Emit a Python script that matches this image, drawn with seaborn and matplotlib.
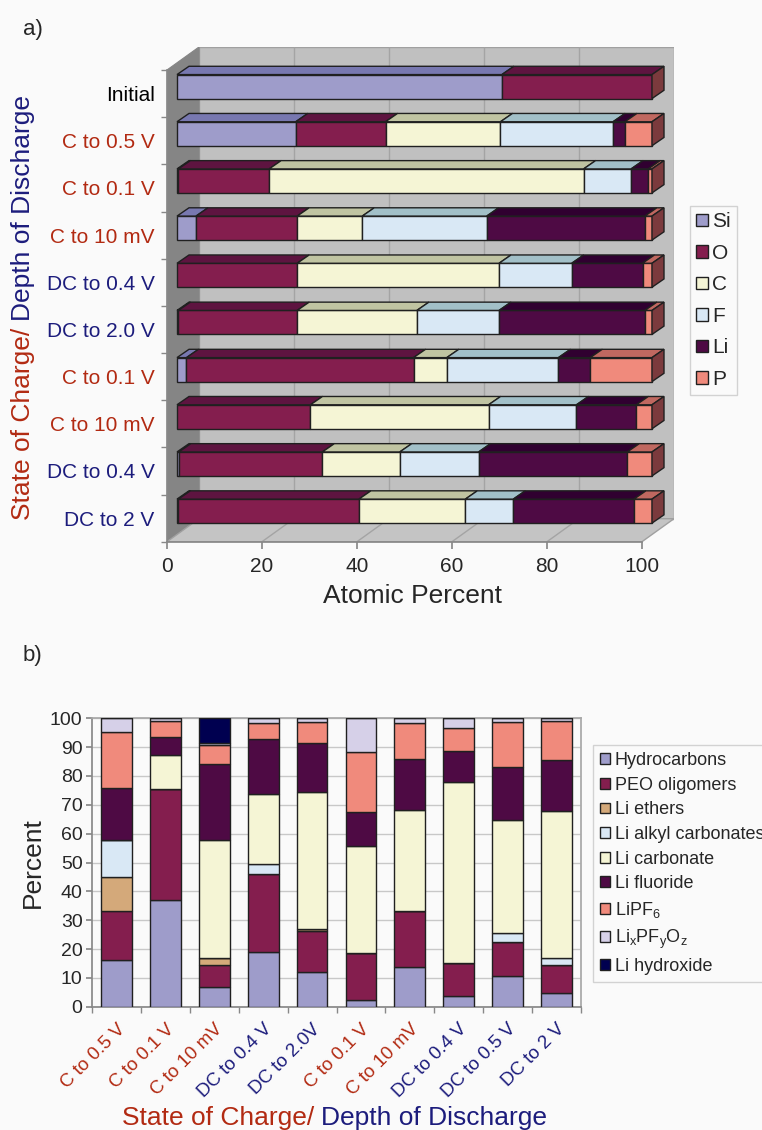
import matplotlib
matplotlib.use("Agg")
import matplotlib.pyplot as plt
import matplotlib.patches as mpatches
import numpy as np
import pandas as pd
import seaborn as sns

# ---------------- panel a: atomic percent per sample ----------------
rows_a = ["Initial", "C to 0.5 V", "C to 0.1 V", "C to 10 mV", "DC to 0.4 V",
          "DC to 2.0 V", "C to 0.1 V", "C to 10 mV", "DC to 0.4 V", "DC to 2 V"]
elements = ["Si", "O", "C", "F", "Li", "P"]
si = [68.4, 25.0, 0.3, 4.0, 0.0, 0.3, 2.0, 0.0, 0.4, 0.3]
o = [31.6, 18.9, 19.1, 21.3, 25.3, 25.0, 47.8, 28.1, 30.2, 38.0]
c = [0.0, 24.2, 66.2, 13.7, 42.5, 25.2, 7.0, 37.5, 16.3, 22.4]
f = [0.0, 23.7, 10.0, 26.2, 15.3, 17.3, 23.5, 18.5, 16.6, 10.1]
li = [0.0, 2.5, 3.6, 33.3, 14.9, 30.7, 6.7, 12.6, 31.3, 25.4]
p = [0.0, 5.7, 0.8, 1.5, 2.0, 1.5, 13.0, 3.3, 5.2, 3.8]

front_a = ["#9e9cca", "#841e4e", "#f5f5d5", "#d9e8f5", "#4e0a44", "#f08a7c"]
top_a = ["#7878b0", "#5e1440", "#c0c4a2", "#a2c0c8", "#300030", "#c06860"]
SIDE = "#7b3a3d"

# ---------------- panel b: species percent per sample ----------------
samples_b = ["C to 0.5 V", "C to 0.1 V", "C to 10 mV", "DC to 0.4 V", "DC to 2.0V",
             "C to 0.1 V", "C to 10 mV", "DC to 0.4 V", "DC to 0.5 V", "DC to 2 V"]
species = ["Hydrocarbons", "PEO oligomers", "Li ethers", "Li alkyl carbonates",
           "Li carbonate", "Li fluoride", "LiPF$_6$", "Li$_x$PF$_y$O$_z$", "Li hydroxide"]
hydrocarbons = [16.1, 37.0, 6.7, 18.9, 12.0, 2.3, 13.8, 3.7, 10.6, 4.8]
peo = [17.0, 38.5, 7.8, 27.1, 14.3, 16.2, 19.4, 11.6, 11.7, 9.7]
li_ethers = [11.8, 0, 2.3, 0, 0.5, 0, 0, 0, 0, 0]
li_alkyl = [12.9, 0, 0, 3.6, 0, 0, 0, 0, 3.3, 2.4]
li_carbonate = [0, 11.8, 40.9, 24.3, 47.8, 37.3, 35.1, 62.5, 39.3, 51.1]
li_fluoride = [18.1, 6.2, 26.4, 18.8, 16.9, 11.8, 17.5, 10.8, 18.2, 17.6]
lipf6 = [19.3, 5.6, 6.7, 5.6, 7.3, 20.6, 12.5, 8.2, 15.7, 13.6]
lixpfyoz = [4.8, 0.9, 0.7, 1.7, 1.2, 11.8, 1.7, 3.2, 1.2, 0.8]
li_hydroxide = [0, 0, 8.5, 0, 0, 0, 0, 0, 0, 0]

colors_b = ["#9e9cca", "#841e4e", "#d4a97a", "#d9e8f5", "#f5f5d5",
            "#4e0a44", "#f08a7c", "#d6d0e8", "#000050"]

RED = "#b22a12"
NAVY = "#1c1c7c"
BG = "#fafafa"
W, H = 762, 1130


def label_color(s):
    if s == "Initial":
        return "black"
    return NAVY if s.startswith("DC") else RED


def fig_box(left, top, right, bottom):
    return [left / W, 1 - bottom / H, (right - left) / W, (bottom - top) / H]


def px_to_data(ax, dx, dy):
    # pixel offset (right, up) -> data offset
    x0, y0 = ax.transData.transform((0, 0))
    x1, y1 = ax.transData.inverted().transform((x0 + dx, y0 + dy))
    return x1, y1


sns.set_theme(style="white")
plt.rcParams["font.family"] = ["Liberation Sans", "DejaVu Sans"]
plt.rcParams["mathtext.fontset"] = "custom"
plt.rcParams["mathtext.rm"] = "Liberation Sans"
plt.rcParams["mathtext.it"] = "Liberation Sans:italic"
plt.rcParams["mathtext.default"] = "regular"

fig = plt.figure(figsize=(W / 100, H / 100), dpi=100, facecolor=BG)

# ======================= panel a (pseudo 3D) =======================
ax_a = fig.add_axes(fig_box(167, 47, 674, 541.7))
ax_a.set_facecolor("none")

df_a = pd.DataFrame({"row": range(len(rows_a)), "Si": si, "O": o, "C": c,
                     "F": f, "Li": li, "P": p})
left = np.zeros(len(df_a))
seg_patches = []
for el, col in zip(elements, front_a):
    n0 = len(ax_a.patches)
    sns.barplot(x=df_a[el], y=df_a["row"], orient="h", left=left.copy(), color=col,
                saturation=1, width=24 / 47.2, edgecolor="#202020", linewidth=1,
                ax=ax_a, zorder=3)
    seg_patches.append(list(ax_a.patches[n0:]))
    left += df_a[el].values

ax_a.set_xlim(0, 100 * 507 / 475)
ax_a.set_ylim(9.5, -0.5 - 23 / 47.2)

# box walls
wx, wy = px_to_data(ax_a, 32, 23)
ax_a.add_patch(mpatches.Rectangle((wx, -0.5 + wy), 100, 10, facecolor="#c0c0c0",
                                  edgecolor="#a0a0a0", lw=1, zorder=0))
ax_a.add_patch(mpatches.Polygon([(0, -0.5), (wx, -0.5 + wy), (wx, 9.5 + wy), (0, 9.5)],
                                facecolor="#858585", edgecolor="#858585", lw=0.8, zorder=0))
ax_a.add_patch(mpatches.Polygon([(0, 9.5), (100, 9.5), (100 + wx, 9.5 + wy), (wx, 9.5 + wy)],
                                facecolor="#c4c4c4", edgecolor="#a0a0a0", lw=1, zorder=0.5))
for t in [20, 40, 60, 80]:
    ax_a.plot([t + wx, t + wx], [-0.5 + wy, 9.5 + wy], color="#a4a4a4", lw=1, zorder=0.2)
    ax_a.plot([t, t + wx], [9.5, 9.5 + wy], color="#a4a4a4", lw=1, zorder=0.6)

# shift bars into the middle of the box and add top / side faces
fx, fy = px_to_data(ax_a, 10, 7)
dx, dy = px_to_data(ax_a, 12, 8.3)
row_end = {}
for ei, plist in enumerate(seg_patches):
    for bar in plist:
        bar.set_x(bar.get_x() + fx)
        bar.set_y(bar.get_y() + fy)
        x0, y0, w, h = bar.get_x(), bar.get_y(), bar.get_width(), bar.get_height()
        if w < 0.05:
            bar.set_visible(False)
            continue
        ax_a.add_patch(mpatches.Polygon(
            [(x0, y0), (x0 + w, y0), (x0 + w + dx, y0 + dy), (x0 + dx, y0 + dy)],
            facecolor=top_a[ei], edgecolor="#202020", lw=1, zorder=3))
        key = round(y0, 3)
        if key not in row_end or x0 + w > row_end[key][0]:
            row_end[key] = (x0 + w, y0, h)
for x1, y0, h in row_end.values():
    ax_a.add_patch(mpatches.Polygon(
        [(x1, y0), (x1 + dx, y0 + dy), (x1 + dx, y0 + h + dy), (x1, y0 + h)],
        facecolor=SIDE, edgecolor="#202020", lw=1, zorder=3))

sns.despine(ax=ax_a, top=True, right=True)
ax_a.spines["left"].set_bounds(-0.5, 9.5)
ax_a.spines["bottom"].set_bounds(0, 100)
for s in ["left", "bottom"]:
    ax_a.spines[s].set_color("#888888")
ax_a.set_xticks([0, 20, 40, 60, 80, 100])
ax_a.tick_params(axis="x", labelsize=15, length=5, color="#888888", pad=6, bottom=True)
ax_a.set_yticks(range(len(rows_a)))
ax_a.set_yticklabels(rows_a)
for lab, txt in zip(ax_a.get_yticklabels(), rows_a):
    lab.set_color(label_color(txt))
    lab.set_va("center_baseline")
ax_a.tick_params(axis="y", labelsize=15, length=0, pad=9)
ax_a.set_yticks(np.arange(-0.5, 10, 1), minor=True)
ax_a.tick_params(axis="y", which="minor", length=4, color="#888888", left=True)
ax_a.set_ylabel("")
ax_a.set_xlabel("Atomic Percent", fontsize=19)
ax_a.xaxis.set_label_coords(0.485, -0.085)

hand_a = [mpatches.Patch(facecolor=col, edgecolor="#202020", lw=1, label=el)
          for el, col in zip(elements, front_a)]
leg = fig.legend(handles=hand_a, loc="upper left", bbox_to_anchor=(690 / W, 1 - 206 / H),
                 fontsize=15, frameon=True, fancybox=False, handlelength=0.55,
                 handleheight=0.55, handletextpad=0.2, labelspacing=0.6, borderpad=0.3,
                 borderaxespad=0)
leg.get_frame().set_edgecolor("#c8c8c8")
leg.get_frame().set_facecolor(BG)
leg.get_frame().set_linewidth(1)

# ======================= panel b (stacked columns) =======================
ax_b = fig.add_axes(fig_box(92.3, 718.3, 580.7, 1006.7))
ax_b.set_facecolor(BG)
df_b = pd.DataFrame({"pos": range(len(samples_b))})
series_b = [hydrocarbons, peo, li_ethers, li_alkyl, li_carbonate,
            li_fluoride, lipf6, lixpfyoz, li_hydroxide]
bottom = np.zeros(len(df_b))
for name, vals, col in zip(species, series_b, colors_b):
    df_b["val"] = vals
    sns.barplot(data=df_b, x="pos", y="val", bottom=bottom.copy(), color=col,
                saturation=1, width=0.63, edgecolor="#202020", linewidth=1,
                ax=ax_b, zorder=3)
    bottom += np.array(vals)

ax_b.set_xlim(-0.5, len(samples_b) - 0.5)
ax_b.set_ylim(0, 100)
ax_b.set_yticks(range(0, 101, 10))
ax_b.yaxis.grid(True, color="#c8c8c8", lw=1, zorder=0)
ax_b.set_axisbelow(True)
for s in ax_b.spines.values():
    s.set_color("#a8a8a8")
ax_b.spines["left"].set_color("#888888")
ax_b.spines["bottom"].set_color("#888888")
ax_b.tick_params(axis="y", labelsize=14, length=4, color="#888888", pad=3, left=True)
ax_b.set_xticks(range(len(samples_b)))
ax_b.set_xticklabels(samples_b, rotation=45, ha="right", rotation_mode="anchor")
for lab, txt in zip(ax_b.get_xticklabels(), samples_b):
    lab.set_color(label_color(txt))
ax_b.tick_params(axis="x", labelsize=13.5, length=0, pad=10)
ax_b.set_xticks(np.arange(-0.5, len(samples_b), 1), minor=True)
ax_b.tick_params(axis="x", which="minor", length=4, color="#888888", bottom=True)
ax_b.set_xlabel("")
ax_b.set_ylabel("Percent", fontsize=19, labelpad=4)

hand_b = [mpatches.Patch(facecolor=col, edgecolor="#202020", lw=1, label=name)
          for name, col in zip(species, colors_b)]
leg_b = fig.legend(handles=hand_b, loc="upper left", bbox_to_anchor=(593 / W, 1 - 745 / H),
                   fontsize=13, frameon=True, fancybox=False, handlelength=0.55,
                   handleheight=0.55, handletextpad=0.25, labelspacing=0.42, borderpad=0.4,
                   borderaxespad=0)
leg_b.get_frame().set_edgecolor("#c8c8c8")
leg_b.get_frame().set_facecolor(BG)
leg_b.get_frame().set_linewidth(1)

# panel letters
fig.text(23 / W, 1 - 29 / H, "a)", fontsize=16, va="center", ha="left")
fig.text(23 / W, 1 - 656 / H, "b)", fontsize=16, va="center", ha="left")

# two coloured axis titles
fig.canvas.draw()
renderer = fig.canvas.get_renderer()
t1 = fig.text(23 / W, 1 - 520 / H, "State of Charge/", color=RED, fontsize=19,
              rotation=90, ha="center", va="bottom")
bb = t1.get_window_extent(renderer)
fig.text(23 / W, (bb.y1 + 7) / H, "Depth of Discharge", color=NAVY, fontsize=19,
         rotation=90, ha="center", va="bottom")

t2 = fig.text(122 / W, 1 - 1118 / H, "State of Charge/", color=RED, fontsize=19,
              ha="left", va="center")
bb = t2.get_window_extent(renderer)
fig.text((bb.x1 + 7) / W, 1 - 1118 / H, "Depth of Discharge", color=NAVY, fontsize=19,
         ha="left", va="center")

fig.savefig("out.png", dpi=100, facecolor=BG)
